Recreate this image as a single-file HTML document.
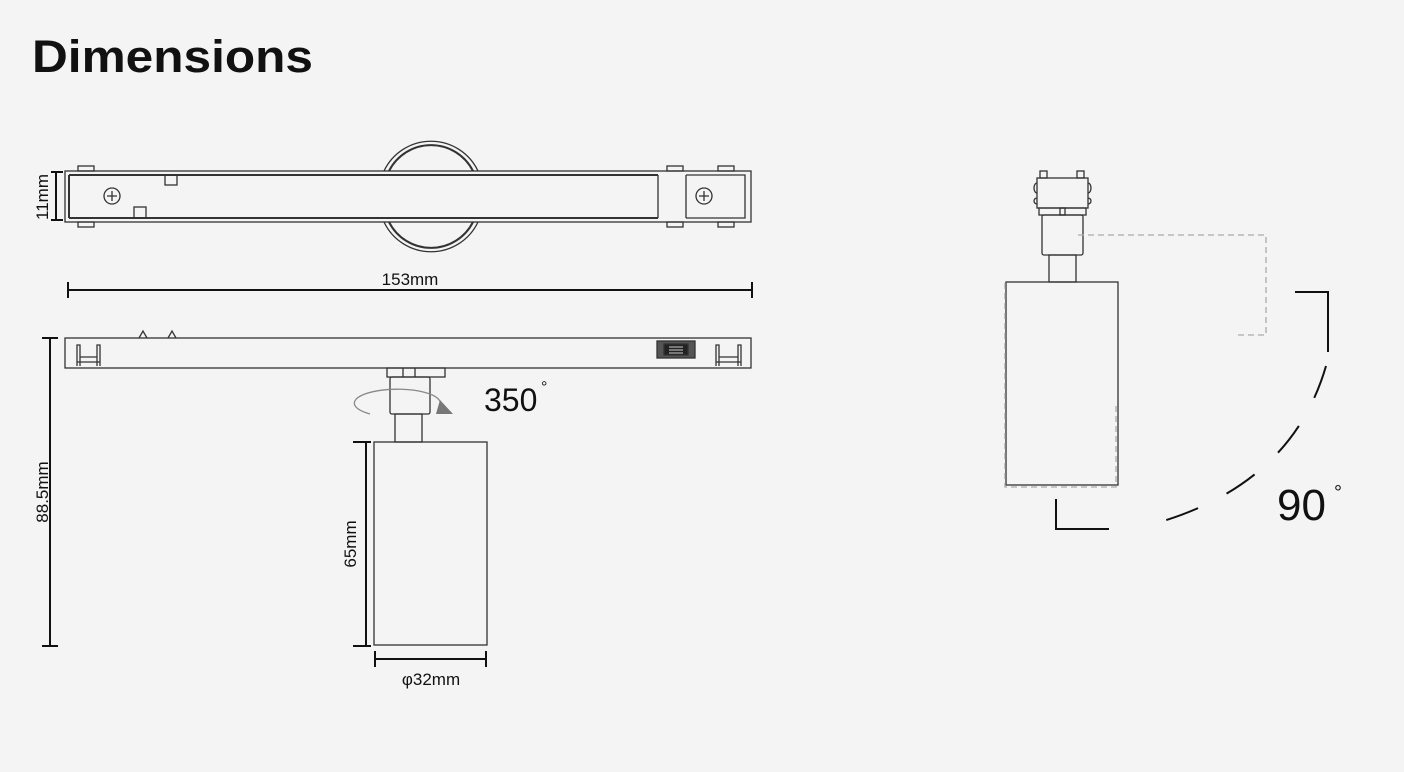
<!DOCTYPE html>
<html><head><meta charset="utf-8"><style>
html,body{margin:0;padding:0;background:#f4f4f4;}
svg{display:block}
text{font-family:"Liberation Sans",sans-serif;fill:#111}
</style></head><body>
<svg width="1404" height="772" viewBox="0 0 1404 772" xmlns="http://www.w3.org/2000/svg">
<rect width="1404" height="772" fill="#f4f4f4"/>
<text x="32" y="72" font-size="45" font-weight="bold" textLength="281" lengthAdjust="spacingAndGlyphs">Dimensions</text>
<g fill="none" stroke="#333" stroke-width="1.3">
 <!-- top view -->
 <path d="M384,171 A52,52 0 0 1 478,171 M384,222 A52,52 0 0 0 478,222"/>
 <path d="M389,171 A47,47 0 0 1 473,171 M389,222 A47,47 0 0 0 473,222" stroke-width="2"/>
 <rect x="65" y="171" width="686" height="51" fill="#f4f4f4"/>
 <path d="M69,175 H658 M69,218 H658 M69,175 V218" stroke-width="2"/>
 <path d="M658,175 V218 M686,175 V218 M686,175 H745 V218 H686"/>
 <rect x="78" y="166" width="16" height="5"/><rect x="78" y="222" width="16" height="5"/>
 <rect x="718" y="166" width="16" height="5"/><rect x="718" y="222" width="16" height="5"/>
 <rect x="667" y="166" width="16" height="5"/><rect x="667" y="222" width="16" height="5"/>
 <rect x="165" y="175" width="12" height="10"/><rect x="134" y="207" width="12" height="11"/>
 <circle cx="112" cy="196" r="8"/><path d="M112,191 V201 M107,196 H117"/>
 <circle cx="704" cy="196" r="8"/><path d="M704,191 V201 M699,196 H709"/>
 <!-- 11mm -->
 <path d="M56,172 V220 M51,172 H63 M51,220 H63" stroke="#111" stroke-width="2"/>
 <!-- 153mm -->
 <path d="M68,290 H752 M68,282 V298 M752,282 V298" stroke="#111" stroke-width="2"/>
 <!-- side view -->
 <rect x="65" y="338" width="686" height="30"/>
 <path d="M139,338 L143,331 L147,338 M168,338 L172,331 L176,338"/>
 <path d="M77,366 V345 H80 V366 M97,366 V345 H100 V366 M77,362 H100 M80,357 H97"/>
 <path d="M716,366 V345 H719 V366 M738,366 V345 H741 V366 M716,362 H741 M719,357 H738"/>
 <rect x="657" y="341" width="38" height="17" fill="#555"/><rect x="664" y="344" width="24" height="11" fill="#222"/>
 <path d="M669,347 H683 M669,350 H683 M669,353 H683" stroke="#aaa"/>
 <rect x="387" y="368" width="58" height="9"/><path d="M403,368 V377 M415,368 V377"/>
 <rect x="390" y="377" width="40" height="37" rx="2"/>
 <rect x="395" y="414" width="27" height="28"/>
 <rect x="374" y="442" width="113" height="203"/>
 <path d="M370,414 A43,14 0 1 1 440,405" stroke="#888"/>
 <!-- 88.5 -->
 <path d="M50,338 V646 M42,338 H58 M42,646 H58" stroke="#111" stroke-width="2"/>
 <path d="M366,442 V646 M353,442 H371 M353,646 H371" stroke="#111" stroke-width="2"/>
 <path d="M375,659 H486 M375,651 V667 M486,651 V667" stroke="#111" stroke-width="2"/>
 <!-- right view -->
 <rect x="1037" y="178" width="51" height="30"/>
 <rect x="1040" y="171" width="7" height="7"/><rect x="1077" y="171" width="7" height="7"/>
 <path d="M1037,183 a3,5 0 0 0 0,10 M1037,198 a3,3 0 0 0 0,6 M1088,183 a3,5 0 0 1 0,10 M1088,198 a3,3 0 0 1 0,6"/>
 <rect x="1039" y="208" width="47" height="7"/><rect x="1060" y="208" width="5" height="7"/>
 <rect x="1042" y="215" width="41" height="40" rx="2"/>
 <rect x="1049" y="255" width="27" height="27"/>
 <rect x="1006" y="282" width="112" height="203"/>
 <path d="M1078,235 H1266 V335 H1236 M1005,283 V487 H1116 V405" stroke="#aaa" stroke-dasharray="6,4"/>
 <path d="M1295,292 H1328 V352 M1056,499 V529 H1109" stroke="#111" stroke-width="2"/>
 <path d="M1326,366 Q1290,490 1142,527" stroke="#111" stroke-width="2" stroke-dasharray="34,32"/>
</g>
<path d="M440,400 L453,414 L436,414 Z" fill="#777"/>
<text x="410" y="285" font-size="17" text-anchor="middle">153mm</text>
<text transform="translate(48,197) rotate(-90)" font-size="17" text-anchor="middle">11mm</text>
<text transform="translate(48,492) rotate(-90)" font-size="17" text-anchor="middle">88.5mm</text>
<text transform="translate(356,544) rotate(-90)" font-size="17" text-anchor="middle">65mm</text>
<text x="431" y="685" font-size="17" text-anchor="middle">φ32mm</text>
<text x="484" y="411" font-size="32" fill="#222">350</text>
<text x="541" y="392" font-size="16" fill="#222">°</text>
<text x="1277" y="520" font-size="44" fill="#222">90</text>
<text x="1334" y="499" font-size="20" fill="#222">°</text>
</svg>
</body></html>
